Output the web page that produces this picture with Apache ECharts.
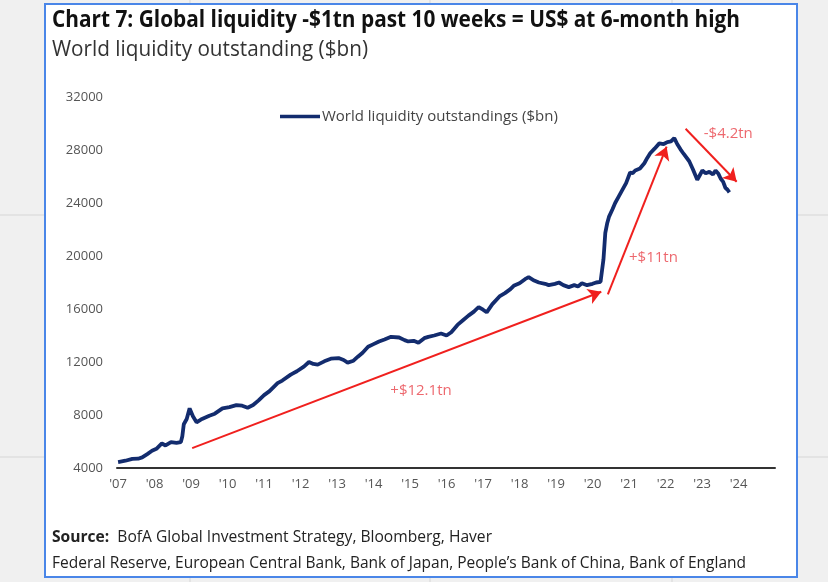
<!DOCTYPE html>
<html><head><meta charset="utf-8">
<script src="https://cdn.jsdelivr.net/npm/echarts@6/dist/echarts.min.js"></script>
<style>html,body{margin:0;padding:0;background:#f0f0f0}#c{width:828px;height:582px}</style>
</head><body><div id="c"></div>
<script>
// ---- data (decimal year, $bn) ----
const years = [2007.00,2007.20,2007.39,2007.55,2007.66,2007.80,2007.93,2008.05,2008.20,2008.30,2008.45,2008.60,2008.72,2008.76,2008.80,2008.88,2008.96,2009.05,2009.15,2009.30,2009.50,2009.65,2009.86,2010.05,2010.24,2010.40,2010.55,2010.70,2010.85,2011.00,2011.15,2011.37,2011.50,2011.73,2011.90,2012.09,2012.23,2012.35,2012.47,2012.65,2012.83,2013.04,2013.18,2013.29,2013.45,2013.57,2013.70,2013.85,2014.00,2014.15,2014.30,2014.48,2014.70,2014.85,2014.95,2015.10,2015.23,2015.39,2015.50,2015.66,2015.85,2016.00,2016.13,2016.30,2016.45,2016.60,2016.75,2016.88,2017.00,2017.10,2017.25,2017.45,2017.60,2017.75,2017.84,2018.00,2018.15,2018.25,2018.40,2018.53,2018.70,2018.80,2018.97,2019.08,2019.20,2019.35,2019.50,2019.60,2019.71,2019.85,2020.00,2020.10,2020.22,2020.27,2020.30,2020.35,2020.40,2020.45,2020.55,2020.62,2020.72,2020.81,2020.92,2021.03,2021.10,2021.17,2021.30,2021.42,2021.50,2021.58,2021.70,2021.83,2021.95,2022.05,2022.15,2022.24,2022.32,2022.41,2022.50,2022.65,2022.75,2022.87,2022.95,2023.01,2023.10,2023.20,2023.30,2023.37,2023.45,2023.51,2023.58,2023.64,2023.70,2023.75];
const liquidity = [4450,4550,4690,4700,4800,5050,5300,5450,5850,5700,5950,5900,5950,6400,7300,7700,8500,7900,7450,7700,7950,8100,8500,8600,8750,8700,8550,8750,9100,9500,9800,10400,10600,11050,11300,11650,12000,11850,11800,12050,12250,12300,12150,11950,12100,12400,12700,13150,13350,13550,13700,13900,13850,13650,13550,13600,13450,13800,13900,14000,14150,14000,14250,14800,15150,15500,15800,16150,15950,15750,16350,16950,17200,17500,17750,17950,18250,18400,18150,18000,17900,17800,17900,18000,17800,17650,17800,17700,17950,17800,17900,18000,18050,17950,19750,21750,22450,22950,23550,24000,24500,24950,25500,26300,26250,26450,26600,27000,27400,27750,28100,28500,28450,28600,28650,28900,28450,28050,27700,27150,26550,25750,26150,26450,26250,26350,26150,26450,26200,25850,25600,25150,25000,24800];
const seriesName = 'World liquidity outstandings ($bn)';
const yearTicks = [2007,2008,2009,2010,2011,2012,2013,2014,2015,2016,2017,2018,2019,2020,2021,2022,2023,2024];
const yTicks = [4000,8000,12000,16000,20000,24000,28000,32000];
// annotations
const arrowStarts = [[2009.03,5500],[2020.42,17100],[2022.55,29600]];
const arrowEnds   = [[2020.24,17300],[2022.03,28250],[2023.95,25600]];
const arrowLabels = ['+$12.1tn','+$11tn','-$4.2tn'];
const labelPoints = [[2015.3,9850],[2021.67,19900],[2023.72,29250]];

const titleText = 'Chart 7: Global liquidity -$1tn past 10 weeks = US$ at 6-month high';
const subtitleText = 'World liquidity outstanding ($bn)';
const sourceLabel = 'Source:';
const sourceLine1 = 'BofA Global Investment Strategy, Bloomberg, Haver';
const sourceLine2 = 'Federal Reserve, European Central Bank, Bank of Japan, People\u2019s Bank of China, Bank of England';

const FAM = "'Open Sans', sans-serif";
const ctx = document.createElement('canvas').getContext('2d');
function measure(text, font){ ctx.font = font; return ctx.measureText(text).width; }
function fitScale(text, font, target){ return target / measure(text, font); }

const titleFont = "bold 24px " + FAM;
const subFont = "21.5px " + FAM;
const srcFont = "16.5px " + FAM;
const srcBold = "bold 16.5px " + FAM;
const s1 = fitScale(titleText, titleFont, 688);
const s2 = fitScale(subtitleText, subFont, 316);
const s3 = 440 / (measure(sourceLabel, srcBold) + measure('  ' + sourceLine1, srcFont));
const s4 = fitScale(sourceLine2, srcFont, 694);
const legendFontSize = 14 * 236 / measure(seriesName, "14px " + FAM);

const chart = echarts.init(document.getElementById('c'));
const lineData = years.map((y,i)=>[y, liquidity[i]]);
chart.setOption({
  animation: false,
  backgroundColor: '#f0f0f0',
  graphic: [
    {type:'line', z:-5, shape:{x1:190,y1:0,x2:190,y2:582}, style:{stroke:'#d6d6d6',lineWidth:1}},
    {type:'line', z:-5, shape:{x1:430,y1:0,x2:430,y2:582}, style:{stroke:'#d6d6d6',lineWidth:1}},
    {type:'line', z:-5, shape:{x1:672,y1:0,x2:672,y2:582}, style:{stroke:'#d6d6d6',lineWidth:1}},
    {type:'line', z:-5, shape:{x1:0,y1:215,x2:828,y2:215}, style:{stroke:'#d6d6d6',lineWidth:1}},
    {type:'line', z:-5, shape:{x1:0,y1:457,x2:828,y2:457}, style:{stroke:'#d6d6d6',lineWidth:1}},
    {type:'rect', z:-4, shape:{x:45,y:4,width:752,height:573}, style:{fill:'#ffffff',stroke:'#4a86e8',lineWidth:2}},
    {type:'text', x:52, y:20, scaleX:s1, z:10, style:{text:titleText, font:titleFont, fill:'#111', verticalAlign:'middle'}},
    {type:'text', x:52, y:50, scaleX:s2, z:10, style:{text:subtitleText, font:subFont, fill:'#333', verticalAlign:'middle'}},
    {type:'text', x:52, y:537, scaleX:s3, z:10, style:{text:'{b|'+sourceLabel+'}  '+sourceLine1, font:srcFont, fill:'#222', verticalAlign:'middle',
        rich:{b:{font:srcBold, fill:'#222'}}}},
    {type:'text', x:52, y:563, scaleX:s4, z:10, style:{text:sourceLine2, font:srcFont, fill:'#222', verticalAlign:'middle'}}
  ],
  legend: {
    data:[seriesName], left:275, top:104, icon:'rect', itemWidth:40, itemHeight:3.5, itemGap:2,
    textStyle:{color:'#444', fontSize:legendFontSize, fontFamily:FAM, padding:[0,0,0,-3]}
  },
  grid: {left:117, right:53, top:97, bottom:114},
  xAxis: {
    type:'value', min:2006.97, max:2025,
    axisLine:{show:true, onZero:false, lineStyle:{color:'#333', width:2}},
    axisTick:{show:false}, splitLine:{show:false},
    axisLabel:{customValues:yearTicks, color:'#555', fontSize:13, fontFamily:FAM, margin:10,
      formatter: v => "'" + String(Math.round(v)).slice(2)}
  },
  yAxis: {
    type:'value', min:4000, max:32000, interval:4000,
    axisLine:{show:false}, axisTick:{show:false}, splitLine:{show:false},
    axisLabel:{color:'#555', fontSize:13, fontFamily:FAM, margin:14, formatter: v => String(v)}
  },
  series: [
    {
      name: seriesName, type:'line', data: lineData, symbol:'none', showSymbol:false,
      lineStyle:{color:'#132c6e', width:3.8}, itemStyle:{color:'#132c6e'}, z:3,
      markLine: {
        silent:true, symbol:['none','arrow'], symbolSize:[12,13],
        lineStyle:{color:'#f0201e', width:2, type:'solid'},
        label:{show:false},
        data: arrowStarts.map((s,i)=>[{coord:s},{coord:arrowEnds[i]}])
      }
    },
    {
      name:'labels', type:'scatter', symbolSize:0, silent:true,
      data: labelPoints.map((p,i)=>({value:p, name:arrowLabels[i]})),
      label:{show:true, position:'inside', formatter: p => p.name, color:'#e8424a', fontSize:15, fontFamily:FAM}
    }
  ]
});
</script></body></html>
